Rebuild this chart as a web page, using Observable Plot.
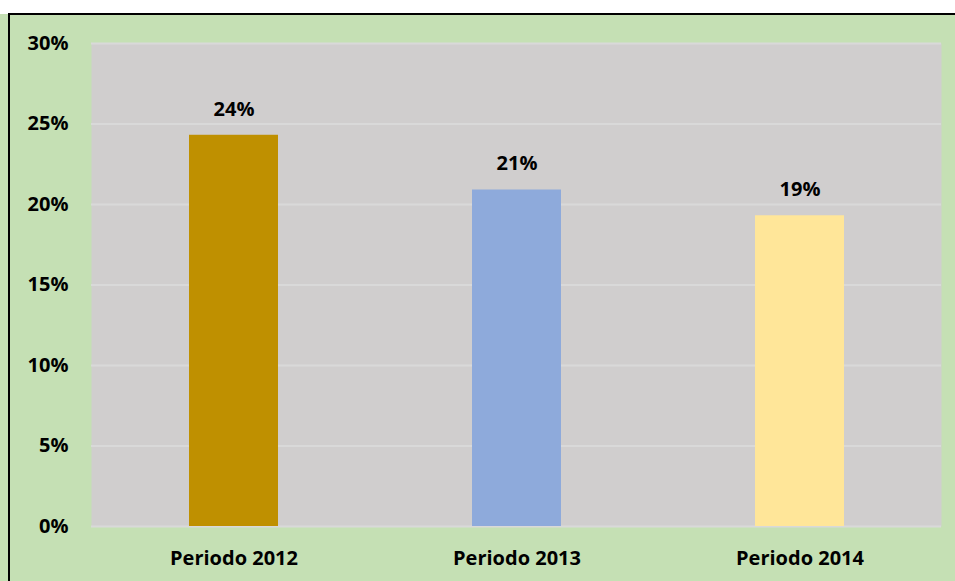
<!DOCTYPE html>
<html><head><meta charset="utf-8">
<script src="https://cdn.jsdelivr.net/npm/d3@7"></script>
<script src="https://cdn.jsdelivr.net/npm/@observablehq/plot@0.6"></script>
<style>
html,body{margin:0;padding:0;background:#fff;}
#wrap{position:relative;width:955px;height:581px;overflow:hidden;}
#border{position:absolute;left:8px;top:13px;width:960px;height:600px;border:2px solid #000;box-sizing:border-box;pointer-events:none;}
svg{display:block;}
</style></head>
<body><div id="wrap"><div id="chart"></div><div id="border"></div></div>
<script>
const categories = ["Periodo 2012", "Periodo 2013", "Periodo 2014"];
const values = [0.243, 0.209, 0.193];
const valueLabels = ["24%", "21%", "19%"];
const colors = ["#bf9000", "#8eaadb", "#ffe699"];
const yTicks = [0, 0.05, 0.10, 0.15, 0.20, 0.25, 0.30];

const data = categories.map((c, i) => ({cat: c, v: values[i], label: valueLabels[i]}));
const font = "Open Sans, Lato, sans-serif";

const chart = Plot.plot({
  width: 955, height: 581,
  marginLeft: 91, marginRight: 14, marginTop: 43, marginBottom: 55,
  style: {background: "transparent", fontFamily: font, fontWeight: "bold", fontSize: "20px", color: "#000"},
  x: {domain: categories, paddingInner: 0.686, paddingOuter: 0.343, label: null, tickSize: 0, tickPadding: 24},
  y: {domain: [0, 0.30], ticks: yTicks, tickFormat: d => Math.round(d * 100) + "%", label: null, tickSize: 0, tickPadding: 23},
  color: {domain: categories, range: colors},
  marks: [
    Plot.frame({fill: "#d0cece", stroke: null}),
    Plot.ruleY(yTicks, {stroke: "#d9d9d9", strokeWidth: 2}),
    Plot.barY(data, {x: "cat", y: "v", fill: "cat"}),
    Plot.text(data, {x: "cat", y: "v", text: "label", dy: -26, fontSize: 20, fontWeight: "bold", fill: "#000"})
  ]
});
document.getElementById("chart").appendChild(chart);
document.getElementById("wrap").style.background = "linear-gradient(#fff 0 14px, #c5e0b4 14px)";
</script>
</body></html>
